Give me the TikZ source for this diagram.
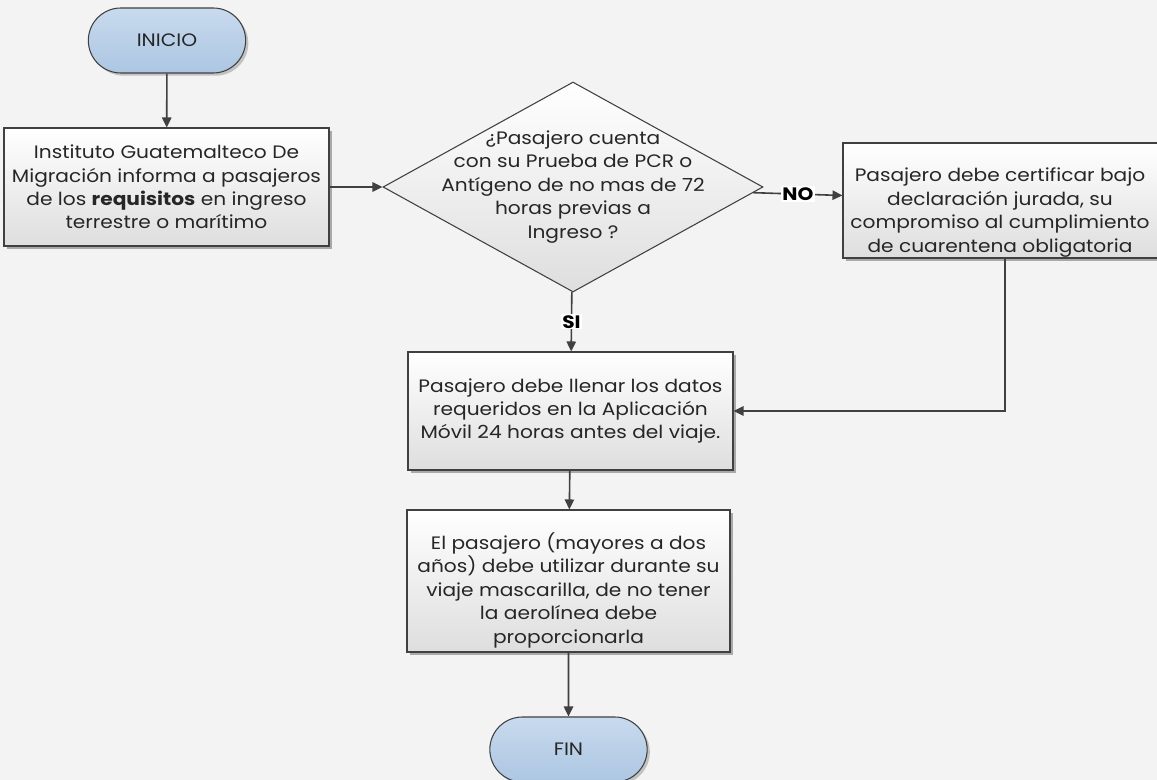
\documentclass[tikz,border=0pt]{standalone}
\usepackage{fontspec}
\setmainfont{Poppins}[FakeStretch=1.12]
\usetikzlibrary{arrows.meta,shapes.geometric,shapes.misc,shadows}
\tikzset{every picture/.style={line width=0.75pt}}
\definecolor{bgGray}{RGB}{243,243,243}
\definecolor{lineGray}{RGB}{64,64,64}
\definecolor{boxBottom}{RGB}{222,222,222}
\definecolor{termTop}{RGB}{200,218,238}
\definecolor{termBottom}{RGB}{172,198,226}

\begin{document}
\begin{tikzpicture}[x=0.75pt,y=0.75pt,yscale=-1,xscale=1,
  flowtext/.style={font=\fontsize{13.5}{17.6}\selectfont, align=center, text=black!85},
  procbox/.style={draw=lineGray, line width=0.8pt, top color=white, bottom color=boxBottom,
    drop shadow={shadow xshift=2pt, shadow yshift=-2pt, fill=black, opacity=0.3},
    minimum width=243.75pt, minimum height=88.5pt, inner sep=0pt, flowtext},
  termnode/.style={draw=lineGray, line width=0.8pt, rounded rectangle, top color=termTop, bottom color=termBottom,
    drop shadow={shadow xshift=2pt, shadow yshift=-2pt, fill=black, opacity=0.2},
    minimum width=118pt, minimum height=48.75pt, inner sep=0pt, flowtext},
  decisionshape/.style={draw=lineGray, line width=0.8pt, diamond, top color=white, bottom color=boxBottom,
    minimum width=285pt, minimum height=157.5pt, inner sep=0pt},
  flowarrow/.style={draw=lineGray, line width=1.2pt, -{Triangle[length=7.5pt,width=7pt]}},
  answer/.style={fill=white, inner sep=1pt, font=\fontsize{13.5}{15}\selectfont\bfseries}]
%set diagram size 1157 x 780
\clip (0,0) rectangle (1157,780);
\fill [bgGray] (0,0) rectangle (1157,780);

%Shape: Terminal [id:inicio]
\node [termnode] (inicio) at (167,40.5) {INICIO};
%Shape: Rectangle [id:informa]
\node [procbox] (informa) at (166.5,187) {Instituto Guatemalteco De\\Migración informa a pasajeros\\de los \textbf{requisitos} en ingreso\\terrestre o marítimo};
%Shape: Diamond [id:pregunta]
\node [decisionshape] (pregunta) at (573,187) {};
% Text Node
\node [flowtext] (preguntatxt) at (pregunta.center) {¿Pasajero cuenta\\con su Prueba de PCR o\\Antígeno de no mas de 72\\horas previas a\\Ingreso ?};
%Shape: Rectangle [id:certifica]
\node [procbox, minimum width=238.5pt, minimum height=86.25pt] (certifica) at (1002,200.5) {};
% Text Node
\node [flowtext] (certificatxt) at ([xshift=-1.5pt,yshift=9pt]certifica.center) {Pasajero debe certificar bajo\\declaración jurada, su\\compromiso al cumplimiento\\de cuarentena obligatoria};
%Shape: Rectangle [id:llenar]
\node [procbox] (llenar) at (570.5,411) {Pasajero debe llenar los datos\\requeridos en la Aplicación\\Móvil 24 horas antes del viaje.};
%Shape: Rectangle [id:mascarilla]
\node [procbox, minimum width=242.25pt, minimum height=106.5pt] (mascarilla) at (568.5,581) {};
% Text Node
\node [flowtext] (mascarillatxt) at ([yshift=7pt]mascarilla.center) {El pasajero (mayores a dos\\años) debe utilizar durante su\\viaje mascarilla, de no tener\\la aerolínea debe\\proporcionarla};
%Shape: Terminal [id:fin]
\node [termnode] (fin) at (568.5,749.5) {FIN};

%Straight Lines
\draw [flowarrow] (inicio) -- (informa);
\draw [flowarrow] (informa) -- (pregunta);
\draw [flowarrow] (pregunta) -- node [answer] {NO} (certifica);
\draw [flowarrow] (pregunta) -- node [answer] {SI} (llenar);
\draw [flowarrow] (certifica.south -| 1005,0) |- (llenar);
\draw [flowarrow] (llenar) -- (mascarilla);
\draw [flowarrow] (mascarilla) -- (fin);

\end{tikzpicture}
\end{document}
